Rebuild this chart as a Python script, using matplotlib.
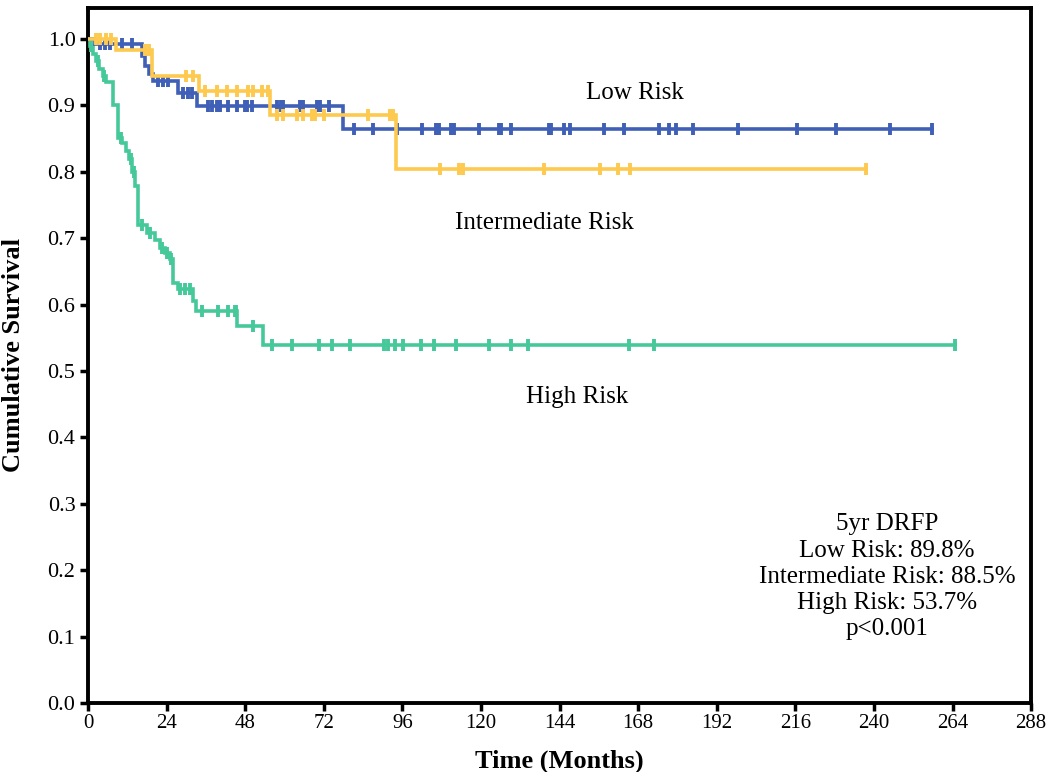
import matplotlib
matplotlib.use("Agg")
import matplotlib.pyplot as plt
import numpy as np

plt.rcParams['font.family'] = ['Liberation Serif', 'DejaVu Serif']

# ---- data ----
# Low risk: event times (months) and survival after each event
low_t = [0, 2.0, 16.5, 17.5, 18.5, 20.0, 27.5, 33.3, 78.0]
low_s = [1.0, 0.993, 0.974, 0.960, 0.947, 0.937, 0.919, 0.899, 0.864]
low_cens = [3.7, 5.2, 6.7, 10.4, 13.4, 21.5, 23.0, 24.5, 29.0, 30.5, 31.8,
            36.7, 37.9, 39.4, 40.3, 42.8, 45.5, 48.0, 48.6, 50.0, 57.7, 59.0,
            59.6, 64.7, 65.7, 70.0, 71.0, 73.6,
            81.2, 87.1, 94.4, 102.0, 106.3, 107.2, 110.9, 111.8, 119.4, 125.5,
            126.1, 129.2, 140.8, 141.4, 145.4, 147.2, 157.6, 163.7, 174.4,
            177.5, 179.6, 184.8, 198.5, 216.5, 228.4, 244.9, 257.8]

# Intermediate risk
int_t = [0, 8.5, 19.5, 34.0, 55.5, 94.0]
int_s = [1.0, 0.983, 0.944, 0.921, 0.885, 0.804]
int_cens = [2.3, 3.8, 5.4, 6.9, 17.4, 18.5, 30.0, 32.0,
            35.7, 39.3, 42.3, 45.4, 48.8, 50.4, 53.1, 55.0,
            57.7, 59.6, 63.8, 65.7, 68.4, 69.3, 72.0, 85.5, 92.2, 93.2,
            107.5, 113.3, 114.5, 139.3, 156.4, 161.9, 165.5, 237.6]

# High risk
high_t = [0, 0.5, 1.5, 2.5, 3.5, 4.5, 5.5, 7.6, 9.2, 10.5, 11.5, 12.5, 13.4,
          14.5, 15.3, 18.0, 20.5, 22.0, 23.5, 25.0, 26.0, 27.5, 32.0, 33.0,
          45.5, 53.4]
high_s = [1.0, 0.990, 0.977, 0.967, 0.955, 0.945, 0.935, 0.900, 0.851, 0.843,
          0.832, 0.820, 0.800, 0.778, 0.720, 0.708, 0.697, 0.685, 0.678, 0.668,
          0.632, 0.623, 0.605, 0.590, 0.568, 0.539]
high_cens = [1.0, 3.0, 5.0, 10.0, 13.0, 14.0, 16.5, 19.0, 22.5, 24.0, 25.5,
             28.0, 29.5, 31.0, 34.8, 39.7, 42.8, 44.9, 45.2, 50.4,
             56.2, 62.3, 70.6, 74.5, 80.0, 90.4, 91.6, 93.8, 96.2, 101.7,
             105.7, 112.4, 122.5, 129.2, 134.4, 165.2, 172.8, 264.8]

colors = {'low': '#3F60B6', 'int': '#FDC94E', 'high': '#46C99A'}

x_ticks = list(range(0, 289, 24))
y_ticks = [round(0.1 * i, 1) for i in range(11)]

fig = plt.figure(figsize=(10.5, 7.72), dpi=100)
ax = fig.add_axes([0.0838, 0.0894, 0.8982, 0.9005])


def km_value(ts, ss, t):
    idx = np.searchsorted(np.asarray(ts), t, side='right') - 1
    return ss[max(idx, 0)]


def draw(ts, ss, cens, color, z):
    end = max(max(cens), ts[-1])
    xs = list(ts) + [end]
    ys = list(ss) + [ss[-1]]
    ax.step(xs, ys, where='post', color=color, lw=2.6, zorder=z,
            solid_joinstyle='miter')
    cy = [km_value(ts, ss, c) for c in cens]
    ax.plot(cens, cy, linestyle='none', marker='|', markersize=9,
            markeredgewidth=2.8, color=color, zorder=z)


draw(high_t, high_s, high_cens, colors['high'], 3)
draw(low_t, low_s, low_cens, colors['low'], 4)
draw(int_t, int_s, int_cens, colors['int'], 5)

ax.set_xlim(0, 288)
ax.set_ylim(0, 1.047)
ax.set_xticks(x_ticks)
ax.set_xticklabels([str(v) for v in x_ticks])
ax.set_yticks(y_ticks)
ax.set_yticklabels([f"{v:.1f}" for v in y_ticks])
ax.tick_params(direction='out', length=6, width=2.5, pad=3)
ax.tick_params(axis='x', labelsize=15, pad=2)
ax.tick_params(axis='y', labelsize=16)
for sp in ax.spines.values():
    sp.set_linewidth(2.8)

ax.set_xlabel('Time (Months)', fontsize=19, fontweight='bold', labelpad=12)
ax.set_ylabel('Cumulative Survival', fontsize=19, fontweight='bold', labelpad=16)

ax.text(167, 0.919, 'Low Risk', fontsize=18, ha='center', va='center')
ax.text(139.3, 0.723, 'Intermediate Risk', fontsize=18, ha='center', va='center')
ax.text(149.4, 0.461, 'High Risk', fontsize=18, ha='center', va='center')

ax.text(244, 0.19, '5yr DRFP\nLow Risk: 89.8%\nIntermediate Risk: 88.5%\n'
        'High Risk: 53.7%\np<0.001', fontsize=18, ha='center', va='center',
        linespacing=1.25)

fig.savefig('out.png', dpi=100)
